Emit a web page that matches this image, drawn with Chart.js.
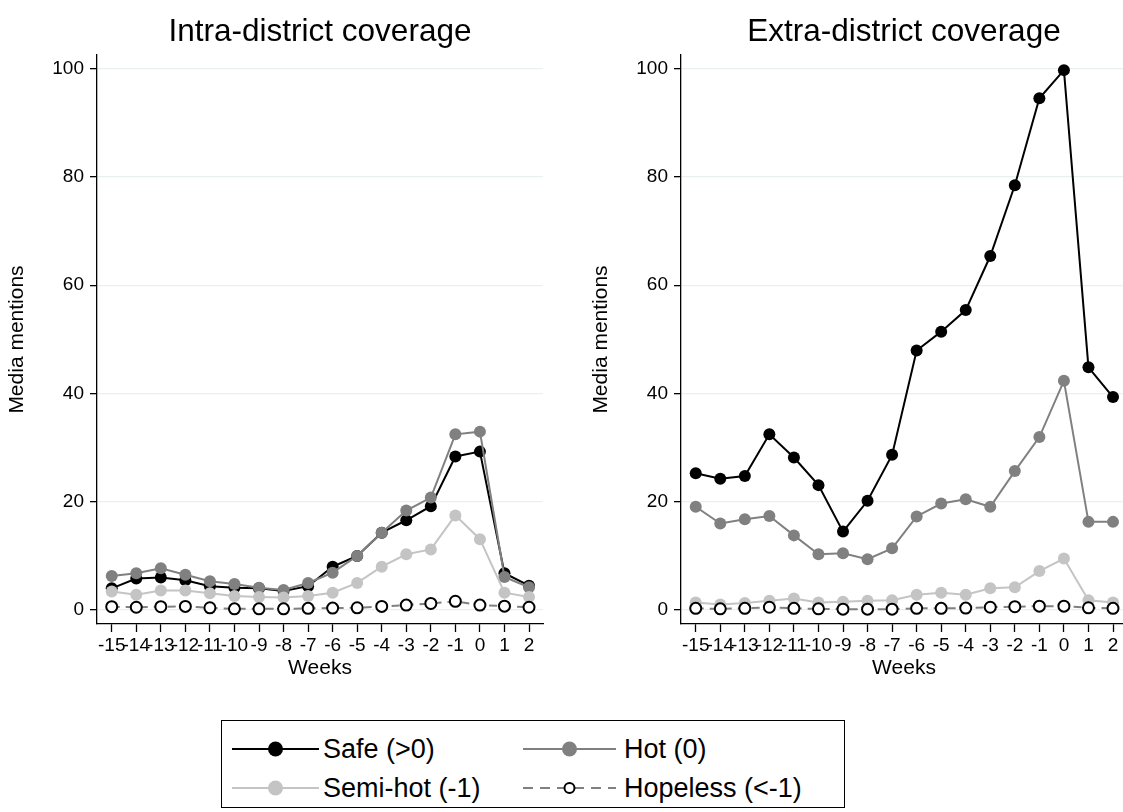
<!DOCTYPE html>
<html>
<head>
<meta charset="utf-8">
<title>Media mentions by week</title>
<script src="https://cdn.jsdelivr.net/npm/chart.js@4.4.1/dist/chart.umd.min.js"></script>
<style>
  html, body { margin: 0; padding: 0; background: #fff; overflow: hidden; width: 1123px; height: 812px; }
  .panel { position: absolute; top: 0; width: 560px; height: 690px; }
  #legend {
    position: absolute; left: 221px; top: 720px; width: 622px; height: 86px;
    border: 1.5px solid #000; box-sizing: content-box;
    font-family: "Liberation Sans", Arial, sans-serif; font-size: 27px; color: #000;
  }
  .item { position: absolute; height: 34px; display: flex; align-items: center; white-space: nowrap; }
  .item svg { display: block; }
</style>
</head>
<body>
<div class="panel" style="left:0"><canvas id="intra" width="560" height="690"></canvas></div>
<div class="panel" style="left:584px"><canvas id="extra" width="560" height="690"></canvas></div>
<div id="legend"></div>

<script>
// Weeks relative to the election week (0)
const weeks = [-15, -14, -13, -12, -11, -10, -9, -8, -7, -6, -5, -4, -3, -2, -1, 0, 1, 2];
const weekLabels = ['-15', '-14', '-13', '-12', '-11', '-10', '-9', '-8', '-7', '-6', '-5', '-4', '-3', '-2', '-1', '0', '1', '2'];
const yTicks = [0, 20, 40, 60, 80, 100];

const seriesNames = ['Safe (>0)', 'Hot (0)', 'Semi-hot (-1)', 'Hopeless (<-1)'];
const panelTitles = ['Intra-district coverage', 'Extra-district coverage'];

// Intra-district coverage
const intraSafe     = [3.9, 5.7, 5.9, 5.4, 4.3, 4.0, 3.9, 3.4, 4.3, 7.9, 9.9, 14.2, 16.5, 19.1, 28.3, 29.2, 6.7, 4.4];
const intraHot      = [6.2, 6.7, 7.6, 6.4, 5.2, 4.7, 4.0, 3.6, 4.9, 6.8, 9.9, 14.2, 18.3, 20.7, 32.4, 32.9, 6.0, 4.1];
const intraSemiHot  = [3.3, 2.7, 3.5, 3.5, 3.0, 2.5, 2.3, 2.2, 2.5, 3.1, 4.9, 7.9, 10.2, 11.1, 17.4, 13.0, 3.1, 2.3];
const intraHopeless = [0.5, 0.4, 0.5, 0.55, 0.3, 0.1, 0.1, 0.1, 0.2, 0.25, 0.3, 0.55, 0.8, 1.1, 1.5, 0.8, 0.6, 0.4];

// Extra-district coverage
const extraSafe     = [25.2, 24.2, 24.7, 32.4, 28.1, 23.0, 14.4, 20.1, 28.6, 47.9, 51.4, 55.4, 65.4, 78.5, 94.6, 99.8, 44.8, 39.3];
const extraHot      = [19.0, 15.9, 16.7, 17.3, 13.7, 10.2, 10.4, 9.3, 11.3, 17.2, 19.6, 20.4, 19.0, 25.6, 31.9, 42.3, 16.2, 16.2];
const extraSemiHot  = [1.3, 0.9, 1.2, 1.6, 2.0, 1.3, 1.4, 1.6, 1.7, 2.7, 3.1, 2.7, 3.9, 4.1, 7.1, 9.4, 1.7, 1.3];
const extraHopeless = [0.2, 0.1, 0.2, 0.4, 0.2, 0.1, 0.05, 0.05, 0.05, 0.2, 0.2, 0.25, 0.4, 0.5, 0.6, 0.6, 0.3, 0.2];

const FONT = '"Liberation Sans", Arial, sans-serif';

// Visual style per series (Safe, Hot, Semi-hot, Hopeless)
const styles = [
  { line: '#000000', fill: '#000000', edge: '#000000', dash: [],     radius: 6,   edgeWidth: 0, order: 4 },
  { line: '#808080', fill: '#808080', edge: '#808080', dash: [],     radius: 6,   edgeWidth: 0, order: 3 },
  { line: '#c4c4c4', fill: '#c4c4c4', edge: '#c4c4c4', dash: [],     radius: 6,   edgeWidth: 0, order: 2 },
  { line: '#808080', fill: '#ffffff', edge: '#000000', dash: [8, 6], radius: 5.5, edgeWidth: 2, order: 1 }
];

function toPoints(values) {
  return weeks.map((w, i) => ({ x: w, y: values[i] }));
}

function makeChart(canvasId, title, seriesValues) {
  const datasets = seriesValues.map((vals, k) => ({
    label: seriesNames[k],
    data: toPoints(vals),
    borderColor: styles[k].line,
    borderWidth: 2,
    borderDash: styles[k].dash,
    pointRadius: styles[k].radius,
    pointHoverRadius: styles[k].radius,
    pointBackgroundColor: styles[k].fill,
    pointBorderColor: styles[k].edge,
    pointBorderWidth: styles[k].edgeWidth,
    tension: 0,
    fill: false,
    clip: false,
    order: styles[k].order
  }));

  return new Chart(document.getElementById(canvasId), {
    type: 'line',
    data: { datasets },
    options: {
      responsive: false,
      animation: false,
      layout: { padding: { top: 0, left: 0, right: 17, bottom: 0 } },
      plugins: {
        legend: { display: false },
        tooltip: { enabled: false },
        title: {
          display: true,
          text: title,
          fullSize: false,
          color: '#000',
          font: { family: FONT, size: 31.5, weight: 'normal' },
          padding: { top: 13, bottom: 4.2 }
        }
      },
      scales: {
        x: {
          type: 'linear',
          min: -15.6,
          max: 2.57,
          afterBuildTicks: (scale) => { scale.ticks = weeks.map(v => ({ value: v })); },
          afterFit: (scale) => { scale.height = 66; },
          ticks: {
            autoSkip: false,
            maxRotation: 0,
            minRotation: 0,
            padding: 2,
            color: '#000',
            font: { family: FONT, size: 19 },
            callback: (value) => weekLabels[weeks.indexOf(value)]
          },
          grid: { drawOnChartArea: false, drawTicks: true, tickLength: 8, tickColor: '#000', tickWidth: 1.3 },
          border: { display: true, color: '#000', width: 1.3 },
          title: {
            display: true,
            text: 'Weeks',
            color: '#000',
            font: { family: FONT, size: 21 },
            padding: { top: 0, bottom: 9 }
          }
        },
        y: {
          type: 'linear',
          min: -2.7,
          max: 102.6,
          afterBuildTicks: (scale) => { scale.ticks = yTicks.map(v => ({ value: v })); },
          afterFit: (scale) => { scale.width = 97; },
          ticks: {
            padding: 6,
            color: '#000',
            font: { family: FONT, size: 19 }
          },
          grid: { color: '#e8f0f1', lineWidth: 1.3, drawTicks: true, tickLength: 7, tickColor: '#000', tickWidth: 1.3 },
          border: { display: true, color: '#000', width: 1.3 },
          title: {
            display: true,
            text: 'Media mentions',
            color: '#000',
            font: { family: FONT, size: 21 },
            padding: { top: 5, bottom: 0 }
          }
        }
      }
    }
  });
}

makeChart('intra', panelTitles[0], [intraSafe, intraHot, intraSemiHot, intraHopeless]);
makeChart('extra', panelTitles[1], [extraSafe, extraHot, extraSemiHot, extraHopeless]);

// Legend: two columns, two rows; each key is a short line with a marker in its middle
const legendPos = [
  { left: 10,  top: 11, len: 87, gap: 4 },
  { left: 301, top: 11, len: 93, gap: 8 },
  { left: 10,  top: 50, len: 87, gap: 4 },
  { left: 301, top: 50, len: 93, gap: 8 }
];
const legend = document.getElementById('legend');
seriesNames.forEach((name, k) => {
  const s = styles[k];
  const p = legendPos[k];
  const item = document.createElement('div');
  item.className = 'item';
  item.style.left = p.left + 'px';
  item.style.top = p.top + 'px';
  const dash = s.dash.length ? ` stroke-dasharray="10 7"` : '';
  const r = s.edgeWidth ? 5 : 7.5;
  const cx = p.len / 2;
  item.innerHTML =
    `<svg width="${p.len}" height="34" viewBox="0 0 ${p.len} 34">` +
    `<line x1="0" y1="17" x2="${p.len}" y2="17" stroke="${s.line}" stroke-width="2"${dash}/>` +
    `<circle cx="${cx}" cy="17" r="${r}" fill="${s.fill}" stroke="${s.edge}" stroke-width="${s.edgeWidth}"/>` +
    `</svg><span style="margin-left:${p.gap}px">${name.replace('<', '&lt;').replace('>', '&gt;')}</span>`;
  legend.appendChild(item);
});
</script>
</body>
</html>
